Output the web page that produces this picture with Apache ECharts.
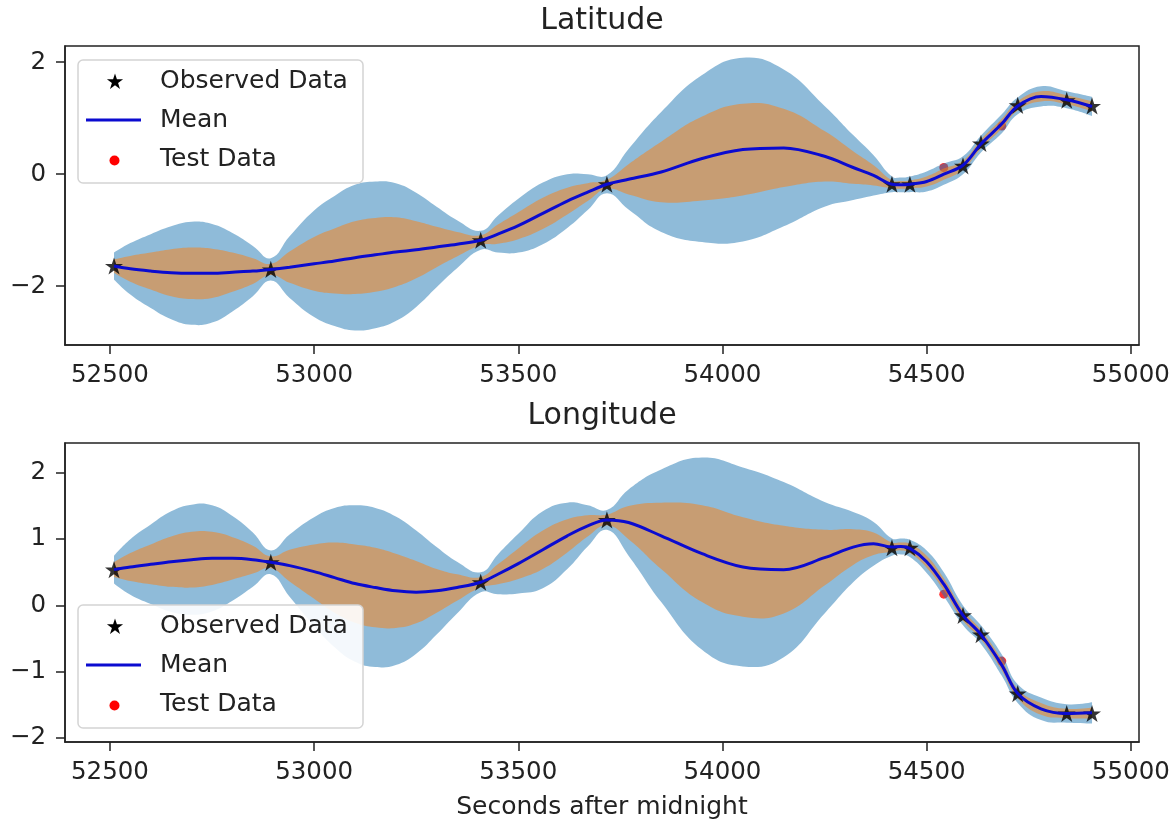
<!DOCTYPE html>
<html>
<head>
<meta charset="utf-8">
<script src="https://cdn.jsdelivr.net/npm/echarts@6/dist/echarts.min.js"></script>
<style>
  html, body { margin: 0; padding: 0; background: #ffffff; }
  #chart { width: 1174px; height: 822px; }
</style>
</head>
<body>
<div id="chart"></div>
<script>
// Prediction grid (seconds after midnight) shared by both panels
const seconds = [52510, 52550, 52600, 52650, 52700, 52750, 52800, 52850, 52894, 52940,
  53000, 53050, 53100, 53150, 53200, 53250, 53300, 53350, 53408, 53450,
  53500, 53560, 53620, 53670, 53717, 53770, 53850, 53950, 54050, 54150,
  54250, 54320, 54370, 54415, 54437, 54459, 54500, 54542, 54589, 54633,
  54684, 54723, 54780, 54843, 54905];

// Latitude: posterior mean and the two confidence bands
const latMean = [-1.64, -1.69, -1.73, -1.76, -1.77, -1.77, -1.75, -1.73, -1.70, -1.66,
  -1.60, -1.55, -1.49, -1.44, -1.39, -1.35, -1.30, -1.25, -1.18, -1.07,
  -0.92, -0.70, -0.48, -0.32, -0.18, -0.09, 0.04, 0.28, 0.44, 0.47,
  0.32, 0.12, -0.02, -0.18, -0.19, -0.18, -0.13, 0.00, 0.16, 0.54,
  0.90, 1.22, 1.39, 1.33, 1.21];
const latLower2 = [-1.88, -2.15, -2.39, -2.59, -2.69, -2.65, -2.45, -2.18, -1.90, -2.21,
  -2.55, -2.71, -2.79, -2.75, -2.62, -2.37, -2.02, -1.68, -1.35, -1.40,
  -1.40, -1.25, -0.96, -0.64, -0.34, -0.63, -1.03, -1.21, -1.20, -0.93,
  -0.58, -0.46, -0.38, -0.32, -0.32, -0.32, -0.31, -0.19, 0.00, 0.39,
  0.73, 1.07, 1.21, 1.18, 1.04];
const latUpper2 = [-1.40, -1.23, -1.07, -0.93, -0.85, -0.89, -1.05, -1.28, -1.50, -1.11,
  -0.65, -0.39, -0.19, -0.13, -0.16, -0.33, -0.58, -0.82, -1.01, -0.74,
  -0.44, -0.15, 0.00, 0.00, -0.02, 0.45, 1.11, 1.77, 2.08, 1.87,
  1.22, 0.70, 0.34, -0.04, -0.06, -0.04, 0.05, 0.19, 0.32, 0.69,
  1.07, 1.37, 1.57, 1.48, 1.38];
const latLower1 = [-1.76, -1.92, -2.06, -2.18, -2.23, -2.21, -2.10, -1.96, -1.80, -1.94,
  -2.08, -2.13, -2.14, -2.10, -2.01, -1.86, -1.66, -1.47, -1.27, -1.24,
  -1.16, -0.98, -0.72, -0.48, -0.26, -0.36, -0.50, -0.47, -0.38, -0.23,
  -0.13, -0.17, -0.20, -0.25, -0.26, -0.25, -0.22, -0.10, 0.08, 0.46,
  0.81, 1.14, 1.30, 1.25, 1.12];
const latUpper1 = [-1.52, -1.46, -1.40, -1.34, -1.31, -1.33, -1.40, -1.50, -1.60, -1.38,
  -1.12, -0.97, -0.84, -0.78, -0.77, -0.84, -0.94, -1.03, -1.09, -0.90,
  -0.68, -0.42, -0.24, -0.16, -0.10, 0.18, 0.58, 1.03, 1.26, 1.17,
  0.77, 0.41, 0.16, -0.11, -0.12, -0.11, -0.04, 0.10, 0.24, 0.62,
  0.99, 1.30, 1.48, 1.41, 1.30];

// Longitude: posterior mean and the two confidence bands
const lonMean = [0.54, 0.58, 0.62, 0.66, 0.69, 0.71, 0.71, 0.69, 0.65, 0.60,
  0.51, 0.42, 0.33, 0.27, 0.22, 0.20, 0.22, 0.27, 0.35, 0.47,
  0.63, 0.84, 1.05, 1.20, 1.29, 1.25, 1.05, 0.78, 0.58, 0.54,
  0.72, 0.88, 0.93, 0.88, 0.89, 0.86, 0.66, 0.32, -0.15, -0.44,
  -0.90, -1.33, -1.56, -1.63, -1.62];
const lonLower2 = [0.33, 0.16, 0.02, -0.10, -0.14, -0.09, 0.07, 0.28, 0.47, 0.13,
  -0.31, -0.63, -0.85, -0.93, -0.90, -0.73, -0.44, -0.12, 0.20, 0.17,
  0.18, 0.26, 0.55, 0.89, 1.14, 0.75, 0.05, -0.67, -0.92, -0.78,
  -0.12, 0.35, 0.60, 0.75, 0.77, 0.73, 0.49, 0.14, -0.30, -0.58,
  -1.06, -1.47, -1.73, -1.77, -1.78];
const lonUpper2 = [0.75, 1.00, 1.22, 1.42, 1.52, 1.51, 1.35, 1.10, 0.83, 1.07,
  1.33, 1.47, 1.51, 1.47, 1.34, 1.13, 0.88, 0.66, 0.50, 0.77,
  1.08, 1.42, 1.55, 1.51, 1.44, 1.75, 2.05, 2.23, 2.08, 1.86,
  1.56, 1.41, 1.26, 1.01, 1.01, 0.99, 0.83, 0.50, 0.00, -0.30,
  -0.74, -1.19, -1.39, -1.49, -1.46];
const lonLower1 = [0.43, 0.37, 0.32, 0.28, 0.27, 0.31, 0.39, 0.48, 0.56, 0.36,
  0.10, -0.11, -0.26, -0.33, -0.34, -0.27, -0.11, 0.07, 0.27, 0.32,
  0.40, 0.55, 0.80, 1.04, 1.21, 1.00, 0.55, 0.05, -0.17, -0.12,
  0.30, 0.61, 0.76, 0.81, 0.83, 0.79, 0.57, 0.23, -0.23, -0.51,
  -0.98, -1.40, -1.65, -1.70, -1.70];
const lonUpper1 = [0.65, 0.79, 0.92, 1.04, 1.11, 1.11, 1.03, 0.90, 0.74, 0.84,
  0.92, 0.95, 0.92, 0.87, 0.78, 0.67, 0.55, 0.47, 0.43, 0.62,
  0.86, 1.13, 1.30, 1.36, 1.37, 1.50, 1.55, 1.51, 1.33, 1.20,
  1.14, 1.15, 1.10, 0.95, 0.95, 0.93, 0.75, 0.41, -0.07, -0.37,
  -0.82, -1.26, -1.47, -1.56, -1.54];

// Observed samples and held-out test samples
const obsSeconds = [52510, 52894, 53408, 53717, 54415, 54459, 54589, 54633, 54723, 54843, 54905];
const latObserved = [-1.64, -1.70, -1.18, -0.18, -0.18, -0.18, 0.15, 0.55, 1.23, 1.32, 1.22];
const lonObserved = [0.54, 0.65, 0.35, 1.29, 0.87, 0.87, -0.15, -0.44, -1.33, -1.63, -1.63];
const testSeconds = [54542, 54684];
const latTest = [0.12, 0.86];
const lonTest = [0.17, -0.84];

// Axis ticks and texts
const xTicks = [52500, 53000, 53500, 54000, 54500, 55000];
const latTicks = [-2, 0, 2];
const lonTicks = [-2, -1, 0, 1, 2];
const panelTitles = ['Latitude', 'Longitude'];
const legendLabels = ['Observed Data', 'Mean', 'Test Data'];
const xName = 'Seconds after midnight';

const FONT = '"DejaVu Sans", sans-serif';
const INK = '#222222';
const MEAN_COLOR = '#0b0bd0';
const BAND_OUTER = 'rgba(31,119,180,0.5)';
const BAND_INNER = 'rgba(255,127,14,0.5)';
const STAR = 'path://M50 0L61.23 34.55L97.55 34.55L68.17 55.9L79.39 90.45L50 69.1L20.61 90.45L31.83 55.9L2.45 34.55L38.77 34.55Z';
const LINE_SMOOTH = 0.35;
const BAND_SMOOTH = 0.45;

// Cubic curve through pixel points, same control-point rule as the line series smoothing
function curve(pts, first, s) {
  const n = pts.length;
  const cps = pts.map((p, i) => {
    if (i === 0 || i === n - 1) return [p, p];
    const a = pts[i - 1], b = pts[i + 1];
    const vx = b[0] - a[0], vy = b[1] - a[1];
    const l0 = Math.hypot(p[0] - a[0], p[1] - a[1]);
    const l1 = Math.hypot(b[0] - p[0], b[1] - p[1]);
    const r = l1 / (l0 + l1);
    return [[p[0] - vx * s * (1 - r), p[1] - vy * s * (1 - r)],
            [p[0] + vx * s * r, p[1] + vy * s * r]];
  });
  let d = (first ? 'M' : 'L') + pts[0][0] + ' ' + pts[0][1];
  for (let i = 0; i < n - 1; i++) {
    const c0 = cps[i][1], c1 = cps[i + 1][0], q = pts[i + 1];
    d += 'C' + c0[0] + ' ' + c0[1] + ' ' + c1[0] + ' ' + c1[1] + ' ' + q[0] + ' ' + q[1];
  }
  return d;
}

// Filled band between a lower and an upper curve
function bandSeries(idx, lower, upper, color, z) {
  return {
    type: 'custom',
    xAxisIndex: idx,
    yAxisIndex: idx,
    z: z,
    silent: true,
    data: seconds.map((x, i) => [x, lower[i], upper[i]]),
    encode: { x: 0, y: [1, 2] },
    renderItem: function (params, api) {
      if (params.dataIndex !== 0) return null;
      const top = seconds.map((x, i) => api.coord([x, upper[i]]));
      const bottom = seconds.map((x, i) => api.coord([x, lower[i]])).reverse();
      return {
        type: 'path',
        shape: { pathData: curve(top, true, BAND_SMOOTH) + curve(bottom, false, BAND_SMOOTH) + 'Z' },
        style: { fill: color, stroke: null }
      };
    }
  };
}

function panelSeries(idx, mean, lo2, hi2, lo1, hi1, observed, test) {
  return [
    {
      type: 'scatter', xAxisIndex: idx, yAxisIndex: idx, z: 1, silent: true,
      symbol: 'circle', symbolSize: 9,
      itemStyle: { color: '#ff0000' },
      data: testSeconds.map((x, i) => [x, test[i]])
    },
    bandSeries(idx, lo2, hi2, BAND_OUTER, 2),
    bandSeries(idx, lo1, hi1, BAND_INNER, 2),
    {
      type: 'scatter', xAxisIndex: idx, yAxisIndex: idx, z: 3, silent: true,
      symbol: STAR, symbolSize: 18, symbolKeepAspect: true,
      itemStyle: { color: '#000000' },
      data: obsSeconds.map((x, i) => [x, observed[i]])
    },
    {
      type: 'line', xAxisIndex: idx, yAxisIndex: idx, z: 4, silent: true,
      smooth: LINE_SMOOTH, showSymbol: false, symbol: 'none',
      lineStyle: { color: MEAN_COLOR, width: 3 },
      data: seconds.map((x, i) => [x, mean[i]])
    }
  ];
}

const minus = v => (v < 0 ? '\u2212' + Math.abs(v) : String(v));

function xAxis(idx, named) {
  return {
    type: 'value', gridIndex: idx, min: 52390, max: 55020,
    axisLine: { show: true, onZero: false, lineStyle: { color: INK, width: 1.5 } },
    axisTick: { show: true, customValues: xTicks, length: 9, lineStyle: { color: INK, width: 1.5 } },
    axisLabel: { customValues: xTicks, margin: 18, fontSize: 24.5, fontFamily: FONT, color: INK,
                 formatter: v => String(v) },
    splitLine: { show: false },
    name: named ? xName : '',
    nameLocation: 'middle', nameGap: 53,
    nameTextStyle: { fontSize: 25, fontFamily: FONT, color: INK }
  };
}

function yAxis(idx, min, max, ticks) {
  return {
    type: 'value', gridIndex: idx, min: min, max: max,
    axisLine: { show: true, onZero: false, lineStyle: { color: INK, width: 1.5 } },
    axisTick: { show: true, customValues: ticks, length: 9, lineStyle: { color: INK, width: 1.5 } },
    axisLabel: { customValues: ticks, margin: 19, fontSize: 24.5, fontFamily: FONT, color: INK,
                 formatter: minus },
    splitLine: { show: false }
  };
}

// Legend box with star, line and dot keys
function starPoints(cx, cy, R) {
  const pts = [];
  for (let k = 0; k < 10; k++) {
    const r = k % 2 === 0 ? R : R * 0.382;
    const a = -Math.PI / 2 + k * Math.PI / 5;
    pts.push([cx + r * Math.cos(a), cy + r * Math.sin(a)]);
  }
  return pts;
}

function legendBox(top) {
  const rows = [top + 21.5, top + 60, top + 99.5];
  const els = [
    { type: 'rect', z: 100, shape: { x: 78, y: top, width: 285, height: 123, r: 5 },
      style: { fill: 'rgba(255,255,255,0.9)', stroke: '#d4d4d4', lineWidth: 1.5 } },
    { type: 'polygon', z: 101, shape: { points: starPoints(115, rows[0] + 0.5, 8.5) },
      style: { fill: '#000000' } },
    { type: 'line', z: 101, shape: { x1: 86, y1: rows[1], x2: 141, y2: rows[1] },
      style: { stroke: MEAN_COLOR, lineWidth: 3 } },
    { type: 'circle', z: 101, shape: { cx: 114.5, cy: rows[2] + 1, r: 5 },
      style: { fill: '#ff0000' } }
  ];
  legendLabels.forEach((t, i) => {
    els.push({ type: 'text', z: 101, x: 160, y: rows[i],
      style: { text: t, font: '25px ' + FONT, fill: INK, verticalAlign: 'middle', align: 'left' } });
  });
  return els;
}

const chart = echarts.init(document.getElementById('chart'), null, { renderer: 'canvas' });
chart.setOption({
  animation: false,
  backgroundColor: '#ffffff',
  title: [
    { text: panelTitles[0], left: 602, top: 6, textAlign: 'center', padding: 0,
      textStyle: { fontSize: 30, fontWeight: 'normal', fontFamily: FONT, color: INK } },
    { text: panelTitles[1], left: 602, top: 401, textAlign: 'center', padding: 0,
      textStyle: { fontSize: 30, fontWeight: 'normal', fontFamily: FONT, color: INK } }
  ],
  grid: [
    { left: 65, top: 46, width: 1074, height: 299, show: true, borderColor: INK, borderWidth: 1.5 },
    { left: 65, top: 443, width: 1074, height: 299, show: true, borderColor: INK, borderWidth: 1.5 }
  ],
  xAxis: [xAxis(0, false), xAxis(1, true)],
  yAxis: [yAxis(0, -3.05, 2.29, latTicks), yAxis(1, -2.06, 2.45, lonTicks)],
  series: [
    ...panelSeries(0, latMean, latLower2, latUpper2, latLower1, latUpper1, latObserved, latTest),
    ...panelSeries(1, lonMean, lonLower2, lonUpper2, lonLower1, lonUpper1, lonObserved, lonTest)
  ],
  graphic: { elements: [...legendBox(60), ...legendBox(605)] }
});
</script>
</body>
</html>
